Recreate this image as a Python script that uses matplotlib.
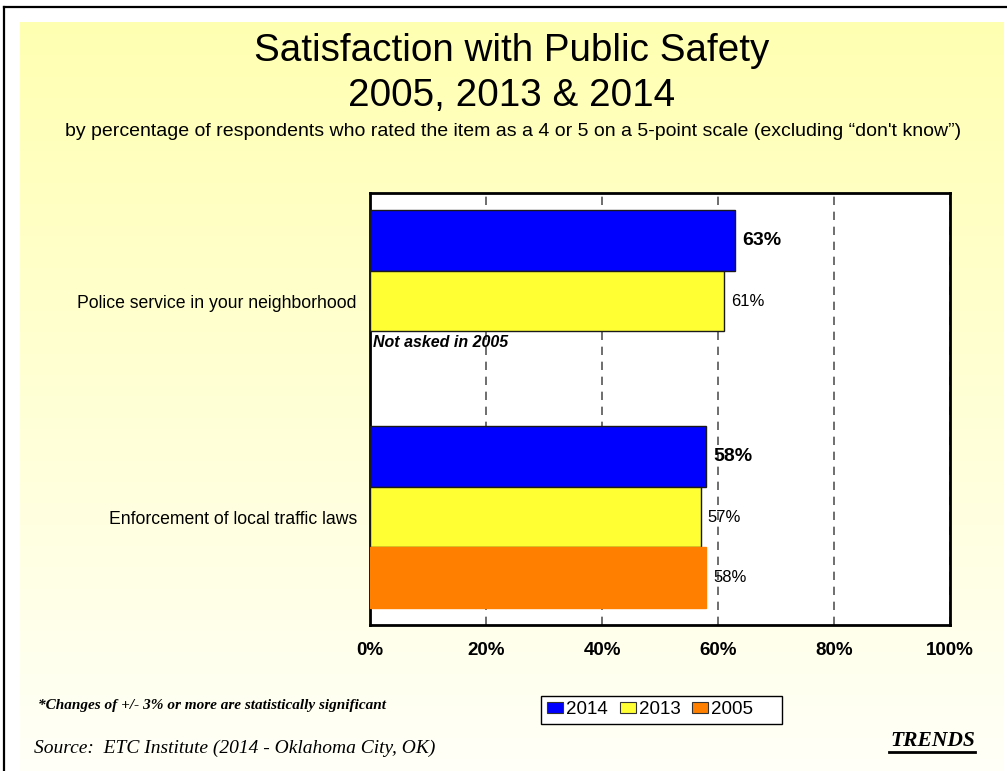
import matplotlib
matplotlib.use("Agg")
import matplotlib.pyplot as plt
import numpy as np

# ---------------------------------------------------------------------------- #
# DATA
# ---------------------------------------------------------------------------- #
categories = ["Police service in your neighborhood",
              "Enforcement of local traffic laws"]
years = ["2014", "2013", "2005"]
v2014 = [63, 58]
v2013 = [61, 57]
v2005 = [None, 58]
x_ticks = [0, 20, 40, 60, 80, 100]
x_ticklabels = ["0%", "20%", "40%", "60%", "80%", "100%"]

colours = ["#0000FF", "#FFFF33", "#FF8000"]
edges = ["#1a1a1a", "#1a1a1a", "#FF8000"]

plt.rcParams["font.family"] = ["Liberation Sans", "DejaVu Sans"]

W, H = 1007, 771
fig = plt.figure(figsize=(W / 100, H / 100), dpi=100)
fig.patch.set_facecolor("white")

# background panel with yellow gradient + frame
bg = fig.add_axes([0, 0, 1, 1], zorder=-5)
bg.set_xlim(0, W)
bg.set_ylim(H, 0)
bg.axis("off")
grad = np.linspace(0, 1, 256).reshape(-1, 1)
top = np.array([255, 255, 178]) / 255.0
bot = np.array([255, 255, 248]) / 255.0
img = top[None, None, :] * (1 - grad[:, :, None]) + bot[None, None, :] * grad[:, :, None]
bg.imshow(img, extent=(20, 1004, 771, 22), aspect="auto")
bg.plot([4, 4], [7, H], color="black", lw=1.6)
bg.plot([4, W], [7, 7], color="black", lw=1.6)

# titles
fig.text(512 / W, 1 - 51 / H, "Satisfaction with Public Safety",
         ha="center", va="center", fontsize=27.8)
fig.text(512 / W, 1 - 96 / H, "2005, 2013 & 2014",
         ha="center", va="center", fontsize=27.8)
fig.text(513 / W, 1 - 131 / H,
         "by percentage of respondents who rated the item as a 4 or 5 on a "
         "5-point scale (excluding \u201cdon't know\u201d)",
         ha="center", va="center", fontsize=14)

# main chart
ax = fig.add_axes([370 / W, 1 - 625 / H, 580 / W, 432 / H])
ax.set_facecolor("white")
ax.set_xlim(0, 100)
ax.set_ylim(2, 0)
bar_h = 0.2824
series = [v2014, v2013, v2005]
for s, (vals, col, ec) in enumerate(zip(series, colours, edges)):
    for i, v in enumerate(vals):
        if v is None:
            continue
        y = i + 0.5 + (s - 1) * bar_h
        ax.barh(y, v, height=bar_h, color=col, edgecolor=ec, lw=1.0, zorder=3)
        if s == 0:
            ax.text(v + 1.2, y, "%d%%" % v, va="center", ha="left",
                    fontsize=14, fontweight="bold", zorder=4)
        else:
            ax.text(v + 1.2, y, "%d%%" % v, va="center", ha="left",
                    fontsize=12, zorder=4)

ax.text(0.6, 0.69, "Not asked in 2005", ha="left", va="center",
        fontsize=11.5, fontweight="bold", fontstyle="italic", zorder=4)

ax.set_xticks(x_ticks)
ax.set_xticklabels(x_ticklabels, fontsize=13.5, fontweight="bold")
ax.set_yticks([0.5, 1.5])
ax.set_yticklabels(categories, fontsize=12.7)
ax.tick_params(axis="both", length=0)
ax.tick_params(axis="x", pad=12)
ax.tick_params(axis="y", pad=9.5)
ax.xaxis.grid(True, color="#555555", ls=(0, (5, 4)), lw=1.2, zorder=0)
for sp in ax.spines.values():
    sp.set_linewidth(2)
    sp.set_color("black")

# legend
handles = [plt.Rectangle((0, 0), 1, 1, facecolor=c, edgecolor="#333333", lw=0.8)
           for c in colours]
bg.add_patch(plt.Rectangle((541, 696), 241, 28, facecolor="white",
                           edgecolor="black", lw=1.0))
leg = fig.legend(handles, years, loc="center left",
                 bbox_to_anchor=(547 / W, 1 - 710 / H),
                 ncol=3, fontsize=13.5, frameon=False,
                 handlelength=0.85, handleheight=0.53, handletextpad=0.16,
                 columnspacing=0.64, borderpad=0, borderaxespad=0)

# footnotes
fig.text(38 / W, 1 - 706 / H,
         "*Changes of +/- 3% or more are statistically significant",
         ha="left", va="center", fontsize=11, fontweight="bold",
         fontstyle="italic", family="Liberation Serif")
fig.text(34 / W, 1 - 748 / H, "Source:  ETC Institute (2014 - Oklahoma City, OK)",
         ha="left", va="center", fontsize=14, fontstyle="italic",
         family="Liberation Serif")
fig.text(975 / W, 1 - 741 / H, "TRENDS", ha="right", va="center", fontsize=15.5,
         fontweight="bold", fontstyle="italic", family="Liberation Serif")
bg.plot([889, 975], [752, 752], color="black", lw=2)

fig.savefig("out.png", dpi=100, facecolor=fig.get_facecolor())
